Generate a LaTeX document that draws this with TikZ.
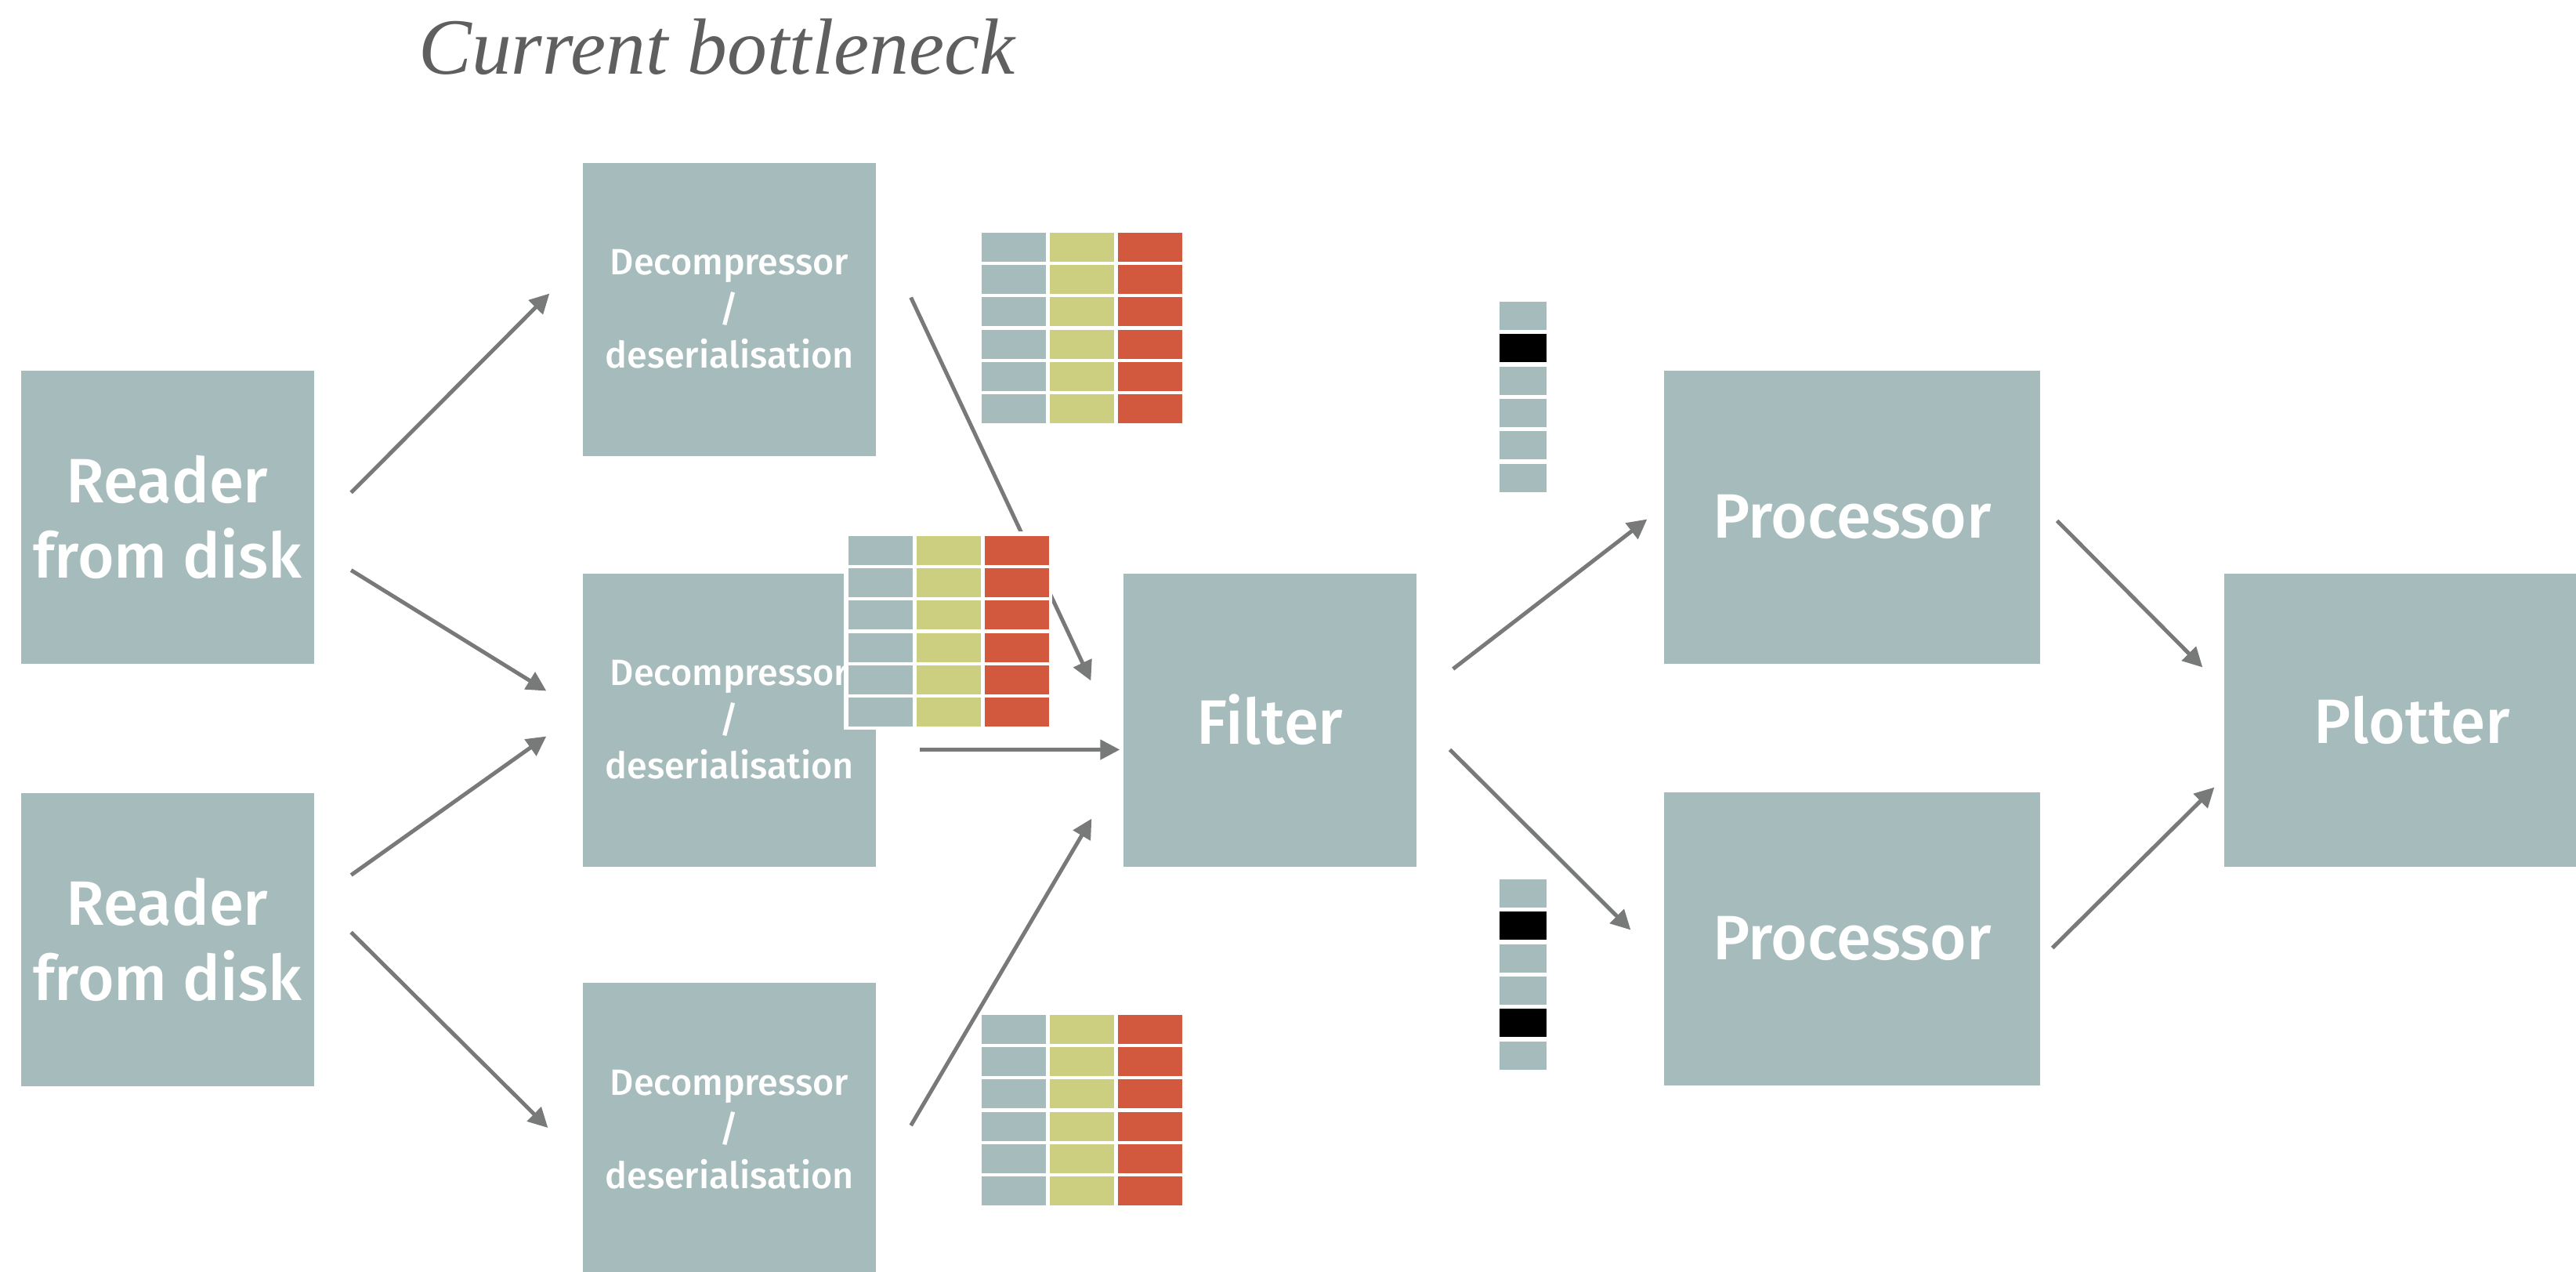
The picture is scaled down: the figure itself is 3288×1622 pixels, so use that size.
\documentclass[tikz,border=0pt]{standalone}
\usepackage{fontspec}
\setmainfont{Liberation Serif}
\newfontfamily\boxfont{Fira Sans}[UprightFont=* Medium]
\usetikzlibrary{calc,arrows.meta}
\definecolor{boxc}{RGB}{166,187,187}
\definecolor{ylw}{RGB}{204,206,128}
\definecolor{rd}{RGB}{211,89,62}
\definecolor{arrc}{RGB}{119,122,120}
\definecolor{titc}{RGB}{95,95,95}
\newcommand\drawtable[2]{%
  \foreach \r in {0,...,5}{%
    \fill[boxc] ({#1},{#2+41.2*\r}) rectangle ++(82,37);
    \fill[ylw] ({#1+87},{#2+41.2*\r}) rectangle ++(82,37);
    \fill[rd] ({#1+174},{#2+41.2*\r}) rectangle ++(82,37);
  }}
\newcommand\drawvec[3]{%
  \foreach \r in {0,...,5}{\fill[boxc] ({#1},{#2+41.3*\r}) rectangle ++(60,36);}
  \foreach \r in {#3}{\fill[black] ({#1},{#2+41.3*\r}) rectangle ++(60,36);}}
\begin{document}
\begin{tikzpicture}[x=0.3pt,y=-0.3pt,
  block/.style={fill=boxc, text=white, inner sep=0pt, align=center,
    minimum width=112.2pt, minimum height=112.2pt,
    font=\boxfont\fontsize{24}{28.8}\selectfont},
  wide/.style={block, minimum width=144pt},
  small/.style={font=\boxfont\fontsize{14}{17.8}\selectfont},
  arr/.style={draw=arrc, line width=1.5pt, -{Triangle[length=7.5pt,width=7.5pt]}},
]
\useasboundingbox (0,0) rectangle (3288,1622);
\clip (0,0) rectangle (3288,1622);

\node[anchor=base, text=titc, font=\itshape\fontsize{30.5}{36}\selectfont] (title) at (915,94) {Current bottleneck};

\node[block] (r1) at (213.5,659.5) {Reader\\from disk};
\node[block] (r2) at (213.5,1198.5) {Reader\\from disk};
\node[block, small] (d1) at (931,394.5) {Decompressor\\/\\deserialisation};
\node[block, small] (d2) at (931,918.5) {Decompressor\\/\\deserialisation};
\node[block, small] (d3) at (931,1441) {Decompressor\\/\\deserialisation};
\node[block] (f) at (1621,918.5) {Filter};
\node[wide] (p1) at (2364,659.5) {Processor};
\node[wide] (p2) at (2364,1197.5) {Processor};
\node[wide] (pl) at (3079,918.5) {Plotter};

\draw[arr] ($(r1.east)+(47,-31)$) -- ($(d1.west)+(-42,-20)$);
\draw[arr] ($(r1.east)+(47,68)$) -- ($(d2.west)+(-46,-37)$);
\draw[arr] ($(r2.east)+(47,-82)$) -- ($(d2.west)+(-46,21)$);
\draw[arr] ($(r2.east)+(47,-9)$) -- ($(d3.west)+(-44,-2)$);
\draw[arr] ($(d1.east)+(44,-15)$) -- ($(f.west)+(-41,-50)$);
\draw[arr] ($(d2.east)+(55,38)$) -- ($(f.west)+(-4,38)$);
\draw[arr] ($(d3.east)+(44,-5)$) -- ($(f.west)+(-40,126)$);
\draw[arr] ($(f.east)+(46,-65)$) -- ($(p1.west)+(-21,3)$);
\draw[arr] ($(f.east)+(42,38)$) -- ($(p2.west)+(-42,-11)$);
\draw[arr] ($(p1.east)+(21,5)$) -- ($(pl.west)+(-27,-67)$);
\draw[arr] ($(p2.east)+(15,12)$) -- ($(pl.west)+(-12,86)$);

\drawtable{1253}{297}
\fill[white] (1077,678) rectangle (1343,931);
\drawtable{1083}{684}
\drawtable{1253}{1295}
\drawvec{1914}{385}{1}
\drawvec{1914}{1122}{1,4}
\end{tikzpicture}
\end{document}
